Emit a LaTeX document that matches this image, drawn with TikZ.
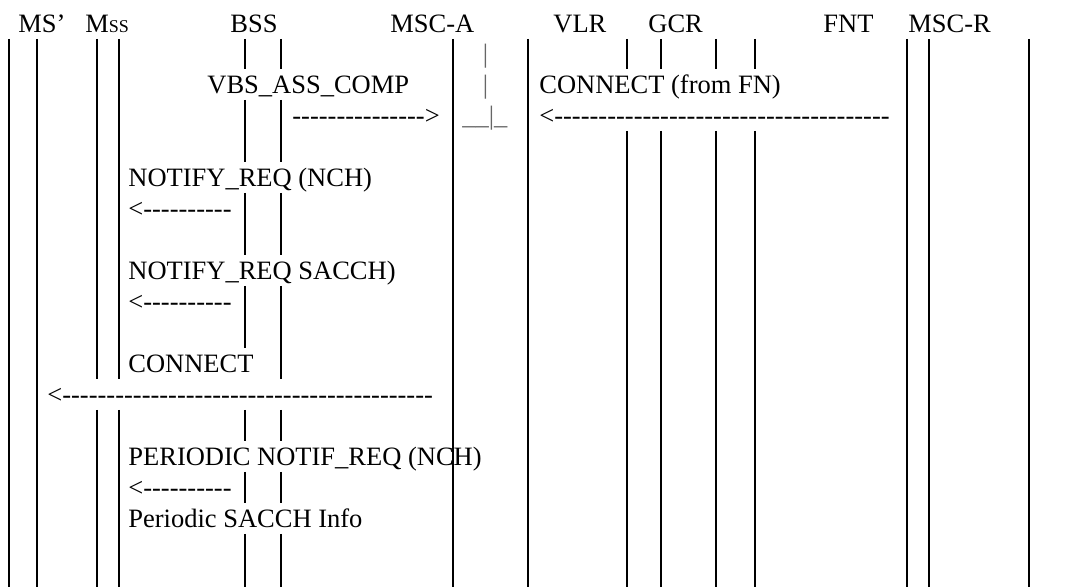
\documentclass[tikz,border=0pt]{standalone}
\usepackage{fontspec}
\newfontfamily\msgfont{Liberation Serif}
\usepackage{tikz}

\begin{document}
\begin{tikzpicture}[x=0.5pt,y=-0.5pt,
  hdr/.style={anchor=base west, inner sep=0pt, font=\msgfont\fontsize{13.25}{15.5}\selectfont},
  msg/.style={hdr},
  tick/.style={hdr, text=black!60},
  life/.style={line width=1pt}
]
\useasboundingbox (0,0) rectangle (1073,587);

% entity names
\node[hdr] (msp)  at (18,33)  {MS’};
\node[hdr] (mss)  at (85,33)  {M{\fontsize{9}{10}\selectfont SS}};
\node[hdr] (bss)  at (230,33) {BSS};
\node[hdr] (msca) at (390,33) {MSC-A};
\node[hdr] (vlr)  at (553,33) {VLR};
\node[hdr] (gcr)  at (648,33) {GCR};
\node[hdr] (fnt)  at (823,33) {FNT};
\node[hdr] (mscr) at (908,33) {MSC-R};

% lifelines, unbroken
\draw[life] (9,39) -- (9,587);
\draw[life] (37,39) -- (37,587);
\draw[life] (453,39) -- (453,587);
\draw[life] (528,39) -- (528,587);
\draw[life] (907,39) -- (907,587);
\draw[life] (929,39) -- (929,587);
\draw[life] (1029,39) -- (1029,587);

% lifelines, broken around the messages
\draw[life] (97,39) -- (97,379) (97,410) -- (97,587);
\draw[life] (119,39) -- (119,379) (119,410) -- (119,587);
\draw[life] (245,39) -- (245,69) (245,100) -- (245,162) (245,193) -- (245,255)
  (245,286) -- (245,348) (245,410) -- (245,441) (245,472) -- (245,503) (245,534) -- (245,587);
\draw[life] (281,39) -- (281,69) (281,100) -- (281,162) (281,193) -- (281,255)
  (281,286) -- (281,379) (281,410) -- (281,441) (281,472) -- (281,503) (281,534) -- (281,587);
\draw[life] (627,39) -- (627,69) (627,131) -- (627,587);
\draw[life] (661,39) -- (661,69) (661,131) -- (661,587);
\draw[life] (716,39) -- (716,69) (716,131) -- (716,587);
\draw[life] (755,39) -- (755,69) (755,131) -- (755,587);

% MSC-A marks
\node[tick] (bar1) at (482.5,63) {\textbar};
\node[tick] (bar2) at (482.5,94) {\textbar};
\node[tick] (bar3) at (462,125)  {\_\_\textbar\_};

% messages
\node[msg] (vbs)    at (207,94)  {VBS\_ASS\_COMP};
\node[msg] (vbsarr) at (292,125) {--------------->};
\node[msg] (confn)  at (539,94)  {CONNECT (from FN)};
\node[msg] (fnarr)  at (539,125) {<--------------------------------------};
\node[msg] (nreq1)  at (128,187) {NOTIFY\_REQ (NCH)};
\node[msg] (narr1)  at (128,218) {<----------};
\node[msg] (nreq2)  at (128,280) {NOTIFY\_REQ SACCH)};
\node[msg] (narr2)  at (128,311) {<----------};
\node[msg] (conn)   at (128,373) {CONNECT};
\node[msg] (connarr) at (47,404) {<------------------------------------------};
\node[msg] (preq)   at (128,466) {PERIODIC NOTIF\_REQ (NCH)};
\node[msg] (parr)   at (128,497) {<----------};
\node[msg] (pinfo)  at (128,528) {Periodic SACCH Info};
\end{tikzpicture}
\end{document}
